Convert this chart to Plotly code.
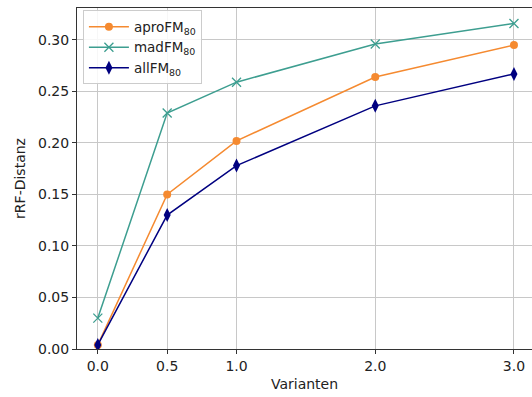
import plotly.graph_objects as go

x_vals = [0.0, 0.5, 1.0, 2.0, 3.0]
apro = [0.004, 0.150, 0.202, 0.264, 0.295]
mad = [0.030, 0.229, 0.259, 0.296, 0.316]
allfm = [0.004, 0.130, 0.178, 0.236, 0.267]
names = ["aproFM<sub>80</sub>", "madFM<sub>80</sub>", "allFM<sub>80</sub>"]
x_ticks = [0.0, 0.5, 1.0, 2.0, 3.0]
x_ticktext = ["0.0", "0.5", "1.0", "2.0", "3.0"]
y_ticks = [0.0, 0.05, 0.10, 0.15, 0.20, 0.25, 0.30]
y_ticktext = ["0.00", "0.05", "0.10", "0.15", "0.20", "0.25", "0.30"]

fig = go.Figure()
fig.add_trace(go.Scatter(x=x_vals, y=apro, name=names[0], mode="lines+markers",
                         line=dict(color="#f58a30", width=1.5),
                         marker=dict(symbol="circle", size=8, color="#f58a30")))
fig.add_trace(go.Scatter(x=x_vals, y=mad, name=names[1], mode="lines+markers",
                         line=dict(color="#3d9e90", width=1.5),
                         marker=dict(symbol="x-thin", size=9, color="#3d9e90",
                                     line=dict(color="#3d9e90", width=1.3))))
fig.add_trace(go.Scatter(x=x_vals, y=allfm, name=names[2], mode="lines+markers",
                         line=dict(color="#000080", width=1.5),
                         marker=dict(symbol="diamond-tall", size=10, color="#000080")))

fig.update_layout(
    width=532, height=397,
    margin=dict(l=77, r=0, t=8, b=48),
    paper_bgcolor="white", plot_bgcolor="white",
    font=dict(family="DejaVu Sans", size=14, color="#222"),
    showlegend=True,
    legend=dict(x=0.013, y=0.993, xanchor="left", yanchor="top",
                bgcolor="rgba(255,255,255,0.85)", bordercolor="#cccccc", borderwidth=1,
                font=dict(size=13.5), tracegroupgap=0, itemwidth=40),
    xaxis=dict(title=dict(text="Varianten", standoff=6, font=dict(size=14)),
               range=[-0.15, 3.13], tickmode="array", tickvals=x_ticks, ticktext=x_ticktext,
               tickfont=dict(size=14),
               showgrid=True, gridcolor="#c8c8c8", gridwidth=1,
               showline=True, linecolor="#333", linewidth=1, mirror=True,
               ticks="outside", ticklen=4, tickcolor="#333", zeroline=False),
    yaxis=dict(title=dict(text="rRF-Distanz", standoff=9, font=dict(size=14)),
               range=[0.0, 0.331], tickmode="array", tickvals=y_ticks, ticktext=y_ticktext,
               tickfont=dict(size=14),
               showgrid=True, gridcolor="#c8c8c8", gridwidth=1,
               showline=True, linecolor="#333", linewidth=1,
               ticks="outside", ticklen=4, tickcolor="#333", zeroline=False),
)

fig.write_html("out.html")
